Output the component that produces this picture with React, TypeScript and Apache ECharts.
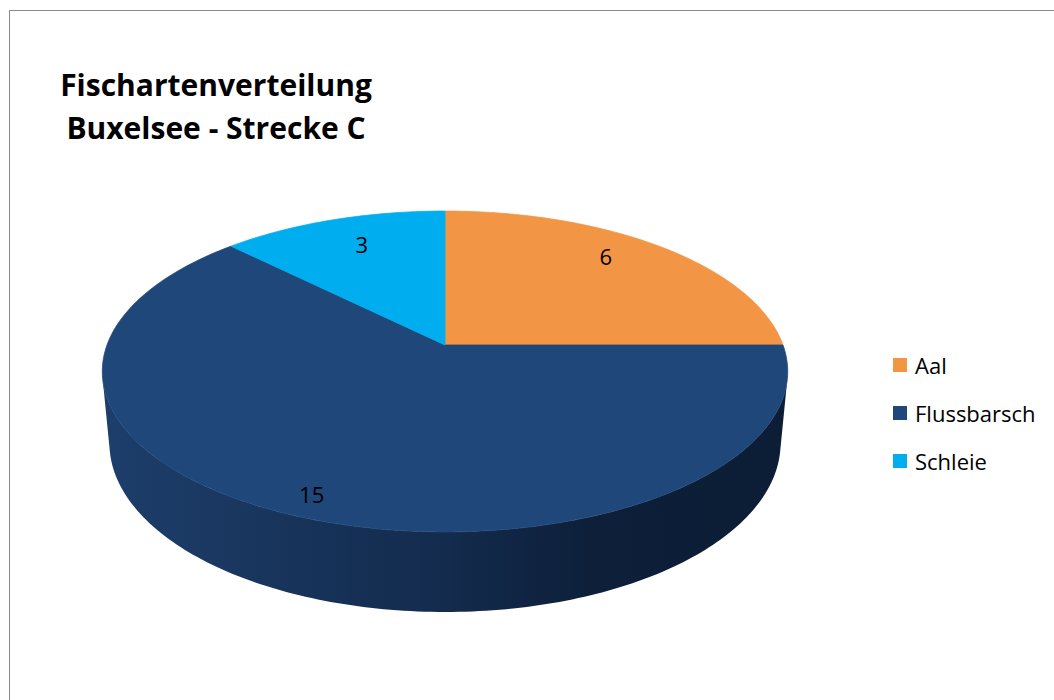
import React, { useEffect, useRef } from "react";
import * as echarts from "echarts";

const CATEGORIES = ["Aal", "Flussbarsch", "Schleie"];
const VALUES = [6, 15, 3];
const TOP_COLORS = ["#f29544", "#1f477a", "#00aeef"];
const TITLE_LINES = ["Fischartenverteilung", "Buxelsee - Strecke C"];

// perspective view of the 3D pie (style constants)
const CX = 445;
const CY = 345;
const ALPHA = (27.5 * Math.PI) / 180;
const SIN_A = Math.sin(ALPHA);
const COS_A = Math.cos(ALPHA);
const CAM_DIST = 5.373;
const FOCAL = 1816;
const THICK = 0.2415;

function project(u: number, v: number, z: number): number[] {
  const d = CAM_DIST - v * COS_A - z * SIN_A;
  return [CX + (FOCAL * u) / d, CY + (FOCAL * (v * SIN_A - z * COS_A)) / d];
}

const VIS_C = 1 / (CAM_DIST * COS_A);
const VIS_A = Math.acos(-VIS_C);
const VIS_B = 2 * Math.PI - VIS_A;

function arc(s: number, e: number, z: number): number[][] {
  const steps = Math.max(2, Math.ceil(((e - s) * 180) / Math.PI));
  const pts: number[][] = [];
  for (let j = 0; j <= steps; j++) {
    const t = s + ((e - s) * j) / steps;
    pts.push(project(Math.sin(t), -Math.cos(t), z));
  }
  return pts;
}

function renderSlice(i: number, value: number) {
  const total = VALUES.reduce((a, b) => a + b, 0);
  let cum = 0;
  for (let k = 0; k < i; k++) cum += VALUES[k];
  const s = (cum / total) * 2 * Math.PI;
  const e = ((cum + value) / total) * 2 * Math.PI;
  const color = TOP_COLORS[i];
  const children: any[] = [];

  const topPts = [project(0, 0, 0), ...arc(s, e, 0)];
  children.push({
    type: "polygon",
    shape: { points: topPts },
    style: { fill: color, stroke: color, lineWidth: 0.8, lineJoin: "round" },
    z2: 10,
  });

  const a = Math.max(s, VIS_A);
  const b = Math.min(e, VIS_B);
  if (b > a) {
    const top = arc(a, b, 0);
    const bottom = arc(a, b, -THICK).reverse();
    const grad = new echarts.graphic.LinearGradient(
      103,
      0,
      788,
      0,
      [
        { offset: 0, color: "#1d3e6b" },
        { offset: 0.5, color: "#132b4d" },
        { offset: 0.72, color: "#0d1f39" },
        { offset: 1, color: "#0c1d35" },
      ],
      true
    );
    children.push({
      type: "polygon",
      shape: { points: [...top, ...bottom] },
      style: { fill: grad },
      z2: 2,
    });
  }

  // label: a little further out for front slices, nudged toward the top centre for back slices
  const mid = (s + e) / 2;
  const uMid = Math.sin(mid);
  const vMid = -Math.cos(mid);
  const rho = 0.78 + 0.12 * Math.max(0, vMid);
  const lp = project(rho * uMid, rho * vMid, 0);
  const back = Math.max(0, -vMid);
  const dx = -20 * uMid * back;
  const dy = -20 * Math.max(0, uMid) * back;
  children.push({
    type: "text",
    x: lp[0] + dx,
    y: lp[1] + dy,
    style: {
      text: String(value),
      fill: "#000000",
      fontSize: 22,
      fontFamily: "Open Sans",
      align: "center",
      verticalAlign: "middle",
    },
    z2: 20,
  });

  return { type: "group", children };
}

export default function App() {
  const ref = useRef<HTMLDivElement>(null);
  useEffect(() => {
    if (!ref.current) return;
    const chart = echarts.init(ref.current, undefined, { renderer: "svg" });
    chart.setOption({
      animation: false,
      backgroundColor: "#ffffff",
      title: {
        text: TITLE_LINES.join("\n"),
        left: 216,
        top: 63,
        padding: 0,
        textAlign: "center",
        textStyle: {
          fontFamily: "Open Sans",
          fontSize: 30,
          fontWeight: "bold",
          color: "#000000",
          lineHeight: 43,
        },
      },
      legend: {
        orient: "vertical",
        left: 893,
        top: 354,
        padding: 0,
        itemWidth: 14,
        itemHeight: 14,
        itemGap: 26,
        icon: "rect",
        selectedMode: false,
        data: CATEGORIES,
        textStyle: {
          fontFamily: "Open Sans",
          fontSize: 22,
          color: "#000000",
          padding: [0, 0, 0, 3],
        },
      },
      graphic: [
        {
          type: "rect",
          shape: { x: 9.5, y: 10.5, width: 1200, height: 900 },
          style: { fill: "none", stroke: "#898989", lineWidth: 1 },
          silent: true,
          z: -1,
        },
      ],
      series: CATEGORIES.map((name, i) => ({
        type: "custom",
        name,
        coordinateSystem: "none",
        silent: true,
        itemStyle: { color: TOP_COLORS[i] },
        data: [[VALUES[i]]],
        renderItem: (_params: any, api: any) => renderSlice(i, api.value(0)),
      })),
    });
    return () => chart.dispose();
  }, []);
  return (
    <div
      ref={ref}
      style={{ position: "absolute", left: 0, top: 0, width: 1054, height: 700 }}
    />
  );
}
